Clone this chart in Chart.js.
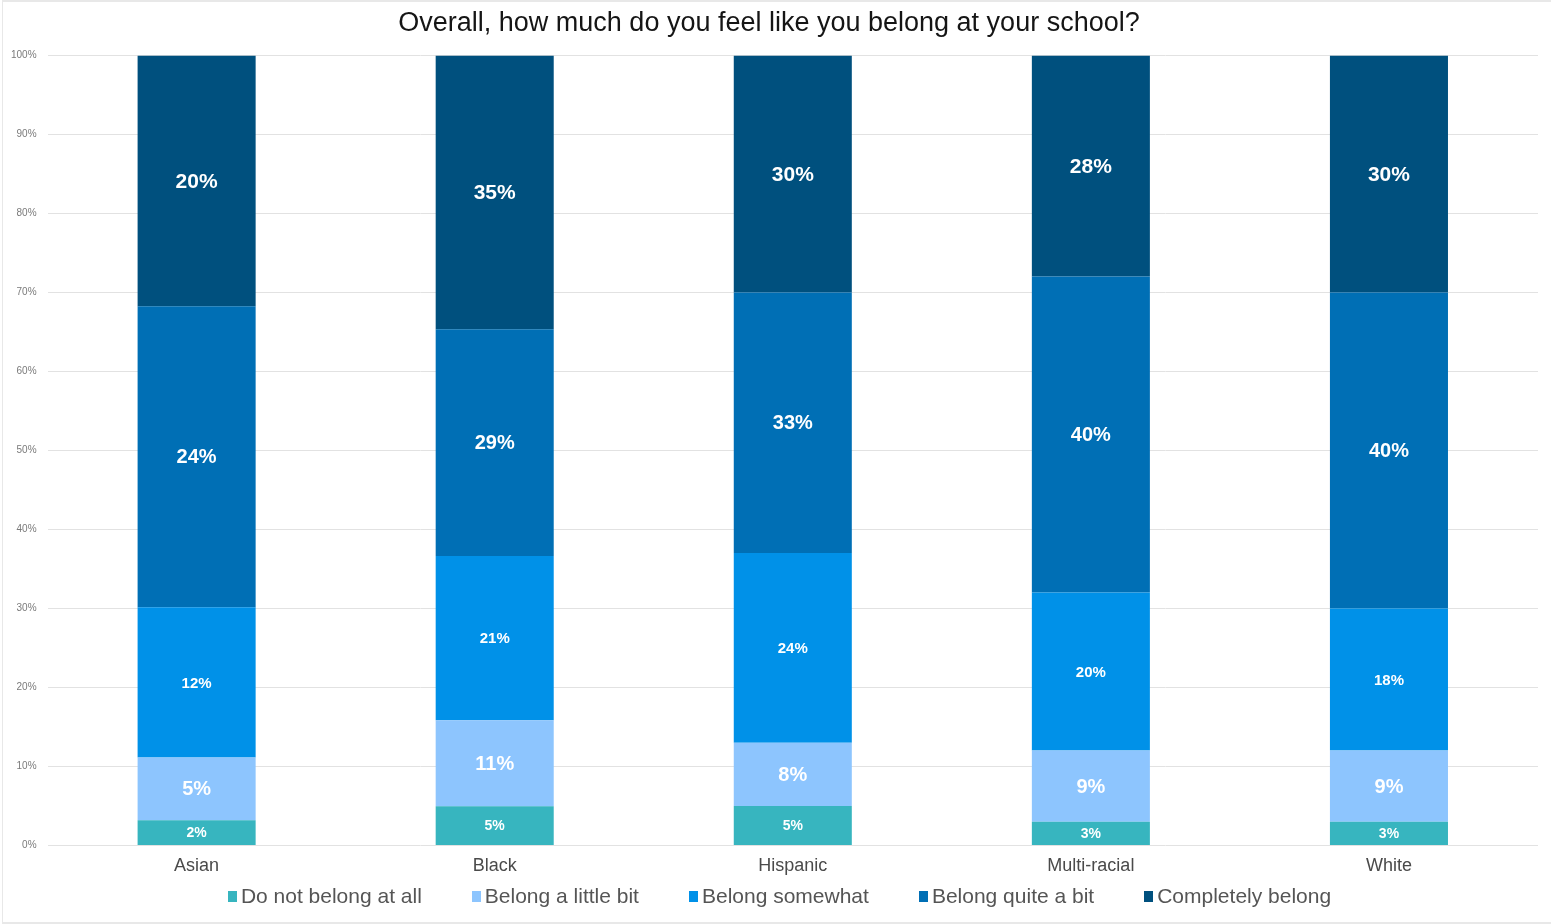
<!DOCTYPE html>
<html>
<head>
<meta charset="utf-8">
<script src="https://cdn.jsdelivr.net/npm/chart.js@4/dist/chart.umd.min.js"></script>
<style>
  html, body { margin: 0; padding: 0; background: #fff; }
  #stage { position: relative; width: 1551px; height: 924px; overflow: hidden; }
  #c { position: absolute; left: 0; top: 0; }
  #frame {
    position: absolute; left: 2px; top: 0; right: 0; bottom: 0;
    border-top: 2px solid #e8e8e8; border-left: 1px solid #e8e8e8; border-bottom: 2px solid #e8e8e8;
    pointer-events: none;
  }
  #legend {
    position: absolute; left: 0; top: 884px; width: 1551px; padding-left: 8px; box-sizing: border-box;
    display: flex; justify-content: center; gap: 50px;
    font: 21px "Liberation Sans", Arial, sans-serif; color: #555; line-height: 24px;
  }
  #legend .item { display: flex; align-items: center; white-space: nowrap; }
  #legend .swatch { width: 9px; height: 11px; margin-right: 4px; display: inline-block; }
</style>
</head>
<body>
<div id="stage">
  <canvas id="c" width="1551" height="924"></canvas>
  <div id="legend"></div>
  <div id="frame"></div>
</div>
<script>
// Survey: "Overall, how much do you feel like you belong at your school?"
const groups = ['Asian', 'Black', 'Hispanic', 'Multi-racial', 'White'];

// Percent of respondents per answer, by group
const notAtAll   = [2, 5, 5, 3, 3];
const littleBit  = [5, 11, 8, 9, 9];
const somewhat   = [12, 21, 24, 20, 18];
const quiteABit  = [24, 29, 33, 40, 40];
const completely = [20, 35, 30, 28, 30];

const seriesNames = ['Do not belong at all', 'Belong a little bit', 'Belong somewhat', 'Belong quite a bit', 'Completely belong'];
const seriesValues = [notAtAll, littleBit, somewhat, quiteABit, completely];
const seriesColors = ['#37b5bf', '#8dc5fe', '#0091e8', '#006fb5', '#00507e'];
const labelSizes = [14, 20, 15, 20, 21];

const yTickValues = [0, 10, 20, 30, 40, 50, 60, 70, 80, 90, 100];

// Each column is scaled to a 100% stack
const totals = groups.map((_, i) => seriesValues.reduce((s, arr) => s + arr[i], 0));

const FONT = '"Liberation Sans", Arial, Helvetica, sans-serif';

const datasets = seriesNames.map((name, k) => ({
  label: name,
  raw: seriesValues[k],
  labelSize: labelSizes[k],
  data: seriesValues[k].map((v, i) => v / totals[i] * 100),
  backgroundColor: seriesColors[k],
  borderWidth: 0,
  categoryPercentage: 1,
  barPercentage: 0.396
}));

// Writes each answer's percentage in the middle of its segment
const valueLabels = {
  id: 'valueLabels',
  afterDatasetsDraw(chart) {
    const ctx = chart.ctx;
    chart.data.datasets.forEach((ds, di) => {
      const meta = chart.getDatasetMeta(di);
      if (meta.hidden) return;
      meta.data.forEach((bar, i) => {
        const p = bar.getProps(['x', 'y', 'base'], true);
        ctx.save();
        ctx.font = 'bold ' + ds.labelSize + 'px ' + FONT;
        ctx.fillStyle = '#ffffff';
        ctx.textAlign = 'center';
        ctx.textBaseline = 'middle';
        ctx.fillText(ds.raw[i] + '%', p.x, (p.y + p.base) / 2 + 1);
        ctx.restore();
      });
    });
  }
};

// Legend row built from the chart's datasets
const htmlLegend = {
  id: 'htmlLegend',
  afterUpdate(chart) {
    const box = document.getElementById('legend');
    box.innerHTML = '';
    chart.data.datasets.forEach(ds => {
      const item = document.createElement('span');
      item.className = 'item';
      const sw = document.createElement('span');
      sw.className = 'swatch';
      sw.style.background = ds.backgroundColor;
      item.appendChild(sw);
      item.appendChild(document.createTextNode(ds.label));
      box.appendChild(item);
    });
  }
};

new Chart(document.getElementById('c'), {
  type: 'bar',
  data: { labels: groups, datasets },
  plugins: [valueLabels, htmlLegend],
  options: {
    responsive: false,
    animation: false,
    devicePixelRatio: 1,
    layout: { padding: { left: 0, right: 13, top: 0, bottom: 45 } },
    plugins: {
      legend: { display: false },
      tooltip: { enabled: false },
      title: {
        display: true,
        text: 'Overall, how much do you feel like you belong at your school?',
        color: '#151515',
        font: { family: FONT, size: 27, weight: 'normal' },
        padding: { top: 7, bottom: 16 }
      }
    },
    scales: {
      x: {
        stacked: true,
        grid: { display: false },
        border: { display: false },
        ticks: { color: '#4a4a4a', font: { family: FONT, size: 18 }, padding: 2 }
      },
      y: {
        stacked: true,
        min: 0,
        max: 100,
        afterBuildTicks(scale) { scale.ticks = yTickValues.map(v => ({ value: v })); },
        grid: { color: '#e2e2e2', lineWidth: 1, drawTicks: false },
        border: { display: false },
        ticks: {
          color: '#7a7a7a',
          font: { family: FONT, size: 10 },
          padding: 11,
          callback: v => v + '%'
        }
      }
    }
  }
});
</script>
</body>
</html>
